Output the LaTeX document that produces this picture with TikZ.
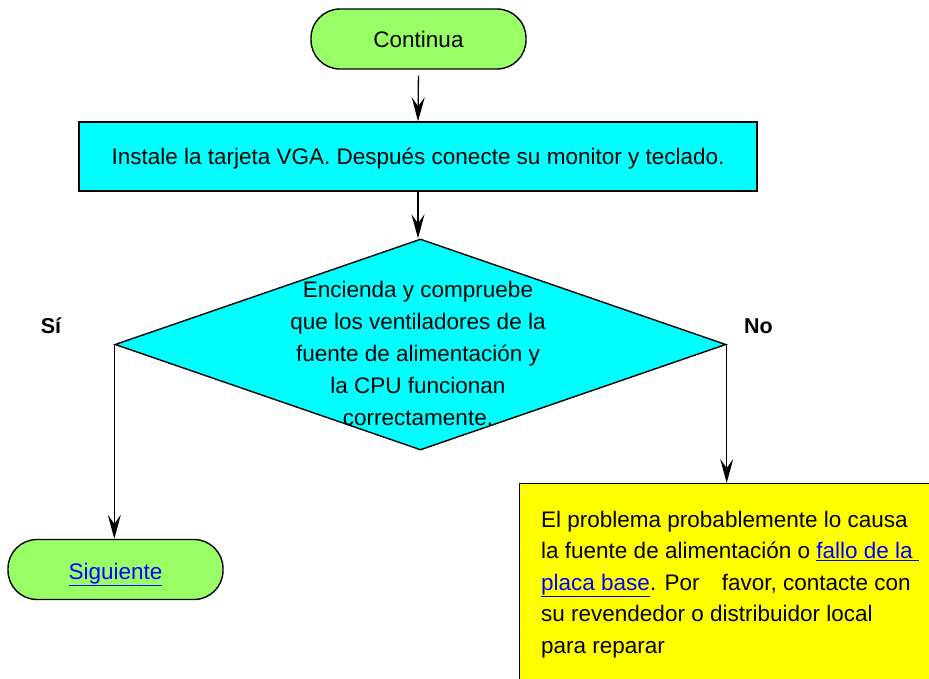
\documentclass[tikz,border=0pt]{standalone}
\usepackage{fontspec}
\setmainfont{Liberation Sans}
\usetikzlibrary{arrows.meta,shapes.geometric}
\definecolor{termgreen}{HTML}{99FF66}
\definecolor{boxcyan}{HTML}{00FFFF}
\definecolor{noteyellow}{HTML}{FFFF00}
\definecolor{linkblue}{HTML}{0000FF}
\newcommand{\lnk}[1]{\textcolor{linkblue}{\underline{#1}}}
\begin{document}
\begin{tikzpicture}[x=1pt,y=-1pt,
  font=\fontsize{22.5}{32}\selectfont,
  term/.style={draw, line width=1.4pt, fill=termgreen, rounded corners=29pt,
    minimum width=215pt, minimum height=60pt, inner sep=0pt},
  procbox/.style={draw, line width=1.4pt, fill=boxcyan,
    minimum width=678pt, minimum height=69pt, inner sep=0pt},
  decision/.style={draw, line width=1.4pt, fill=boxcyan, shape=diamond,
    minimum width=611pt, minimum height=211pt, inner sep=0pt},
  notebox/.style={draw, line width=1.4pt, fill=noteyellow,
    minimum width=450pt, minimum height=240pt, inner sep=0pt},
  txt/.style={inner sep=0pt},
  branch/.style={inner sep=0pt, font=\fontsize{21.5}{32}\selectfont\bfseries},
  flow/.style={line width=1.3pt, -{Stealth[length=24pt,width=13pt,inset=9pt]}}
]
\useasboundingbox (0,0) rectangle (929,678);
\fill[white] (0,0) rectangle (929,678);

\node[term] (cont) at (418.5,39) {};
\node[txt, anchor=base] (conttxt) at (418.5,47) {Continua};

\node[procbox] (inst) at (418,156.5) {};
\node[txt, anchor=base] (insttxt) at (418,164) {Instale la tarjeta VGA. Después conecte su monitor y teclado.};

\node[decision] (diam) at (420.5,344.5) {};
\node[txt, align=center] (dtxt) at (418,353)
  {Encienda y compruebe\\ que los ventiladores de la\\ fuente de alimentación y\\ la CPU funcionan\\ correctamente.};

\node[branch, anchor=base] (si) at (51,333) {Sí};
\node[branch, anchor=base] (no) at (758.5,333) {No};

\node[term] (sig) at (115.5,569.5) {};
\node[txt, anchor=base] (sigtxt) at (115.5,579) {\lnk{Siguiente}};

\begin{scope}
  \clip (0,0) rectangle (929,678);
  \node[notebox, anchor=north west] (fail) at (519,483) {};
\end{scope}
\node[txt, anchor=north west, align=left, font=\fontsize{22.5}{31.5}\selectfont] (failtxt) at (541,510.6)
  {El problema probablemente lo causa\\
   la fuente de alimentación o \lnk{fallo de la\ }\\
   \lnk{placa base}. Por\hspace{16pt} favor, contacte con\\
   su revendedor o distribuidor local\\
   para reparar};

\draw[flow, shorten <=6pt] (cont.south) -- (inst.north);
\draw[flow] (inst.south) -- (inst.south |- diam.north);
\draw[flow] (diam.west) -- (diam.west |- sig.north);
\draw[flow] (diam.east) -- (diam.east |- fail.north);
\end{tikzpicture}
\end{document}
